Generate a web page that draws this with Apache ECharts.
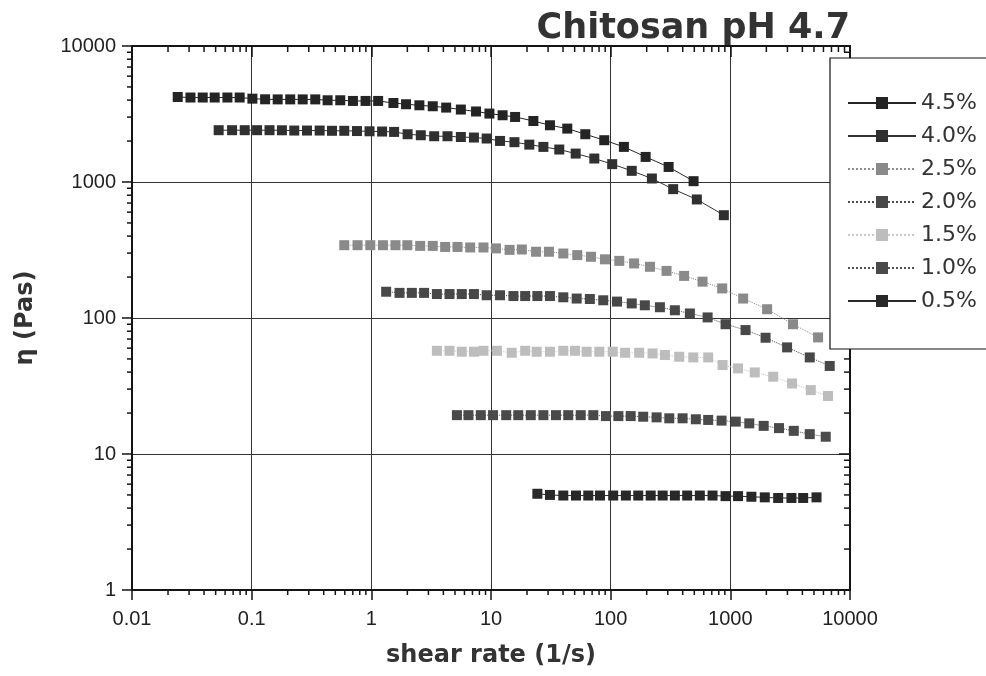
<!DOCTYPE html>
<html>
<head>
<meta charset="utf-8">
<script src="https://cdn.jsdelivr.net/npm/echarts@6/dist/echarts.min.js"></script>
<style>
html,body{margin:0;padding:0;background:#fff;}
#chart{width:986px;height:676px;}
</style>
</head>
<body>
<div id="chart"></div>
<script>
// ---- data ----
const seriesNames = ['4.5%', '4.0%', '2.5%', '2.0%', '1.5%', '1.0%', '0.5%'];

const rate45 = [0.0241, 0.0308, 0.039, 0.0491, 0.0627, 0.0794, 0.1014, 0.1295, 0.165, 0.210, 0.267, 0.340, 0.431, 0.550, 0.702, 0.895, 1.14, 1.53, 1.95, 2.52, 3.26, 4.22, 5.6, 7.5, 9.7, 12.5, 15.9, 22.6, 31.1, 43.4, 61.4, 88.4, 129, 196, 305, 493];
const visc45 = [4217, 4180, 4180, 4180, 4180, 4180, 4100, 4055, 4050, 4050, 4050, 4050, 3990, 3990, 3945, 3945, 3945, 3810, 3730, 3665, 3605, 3525, 3410, 3300, 3185, 3095, 3008, 2810, 2613, 2470, 2245, 2029, 1812, 1529, 1290, 1014];

const rate40 = [0.053, 0.0686, 0.0875, 0.111, 0.141, 0.179, 0.227, 0.290, 0.370, 0.469, 0.594, 0.759, 0.966, 1.23, 1.55, 2.01, 2.59, 3.35, 4.33, 5.6, 7.2, 9.2, 11.9, 15.7, 20.9, 27.4, 37.2, 51, 73, 103, 150, 221, 333, 525, 883];
const visc40 = [2404, 2404, 2404, 2404, 2404, 2400, 2390, 2390, 2390, 2380, 2380, 2370, 2360, 2350, 2335, 2245, 2207, 2170, 2170, 2142, 2123, 2088, 2004, 1962, 1883, 1812, 1733, 1618, 1488, 1353, 1208, 1061, 886, 744, 570];

const rate25 = [0.594, 0.767, 0.98, 1.25, 1.59, 2.0, 2.56, 3.26, 4.14, 5.25, 6.7, 8.65, 11.0, 14.3, 18.1, 23.8, 30.5, 40.2, 52.6, 68.5, 89.6, 118, 157, 213, 293, 411, 586, 855, 1280, 2030, 3340, 5410];
const visc25 = [343, 343, 343, 343, 343, 343, 339, 339, 333, 333, 330, 330, 325, 317, 319, 307, 307, 298, 290, 282, 270, 263, 252, 238, 222, 204, 185, 165, 139, 116, 90, 72];

const rate20 = [1.33, 1.72, 2.18, 2.76, 3.53, 4.5, 5.7, 7.2, 9.2, 11.9, 15.4, 19.3, 24.4, 31.1, 40.2, 52, 67, 86.7, 113, 150, 193, 258, 344, 459, 646, 912, 1340, 1970, 2980, 4610, 6770];
const visc20 = [156, 153, 153, 153, 150, 150, 150, 150, 147, 147, 145, 145, 145, 145, 142, 139, 138, 135, 132, 128, 124, 120, 114, 108, 101, 90, 81.5, 71.6, 60.8, 51.3, 44.4];

const rate15 = [3.53, 4.5, 5.7, 7.2, 8.65, 11.2, 14.9, 19.3, 24.1, 31.1, 40.2, 50.3, 63, 80.4, 104, 132, 173, 224, 284, 374, 490, 653, 861, 1160, 1600, 2280, 3280, 4700, 6550];
const visc15 = [57.4, 57.4, 56.5, 56.5, 57.4, 57.4, 55.5, 57.4, 56.5, 56.5, 57.4, 57.4, 56.5, 56.5, 56.5, 55.5, 55.5, 54.9, 53.4, 51.9, 51.3, 51.3, 45.1, 42.6, 39.8, 37, 33, 29.5, 26.7];

const rate10 = [5.19, 6.48, 8.22, 10.4, 13.4, 16.9, 21.5, 27.4, 34.9, 44.2, 56.2, 71.6, 91.4, 116, 147, 187, 242, 309, 399, 515, 653, 845, 1110, 1440, 1900, 2550, 3390, 4610, 6270];
const visc10 = [19.3, 19.3, 19.3, 19.3, 19.3, 19.3, 19.3, 19.3, 19.3, 19.3, 19.3, 19.3, 19.0, 19.0, 19.0, 18.8, 18.6, 18.3, 18.3, 18.0, 17.8, 17.6, 17.3, 16.8, 16.1, 15.5, 14.8, 14.0, 13.4];

const rate05 = [24.4, 31.1, 40.2, 51.3, 65, 81.4, 105, 134, 170, 216, 272, 344, 436, 556, 710, 912, 1160, 1500, 1940, 2510, 3240, 4060, 5250];
const visc05 = [5.1, 5.0, 4.95, 4.95, 4.95, 4.95, 4.95, 4.95, 4.95, 4.95, 4.95, 4.95, 4.95, 4.95, 4.95, 4.9, 4.9, 4.85, 4.8, 4.75, 4.75, 4.75, 4.8];

const xTickValues = [0.01, 0.1, 1, 10, 100, 1000, 10000];
const yTickValues = [1, 10, 100, 1000, 10000];
const minorMultipliers = [2, 3, 4, 5, 6, 7, 8, 9];

// ---- build ----
const pairs = (xs, ys) => xs.map((x, i) => [x, ys[i]]);
const xMinor = [];
for (let k = 0; k < xTickValues.length - 1; k++) minorMultipliers.forEach(m => xMinor.push([+(m * xTickValues[k]).toPrecision(6), yTickValues[0]]));
const yMinor = [];
for (let k = 0; k < yTickValues.length - 1; k++) minorMultipliers.forEach(m => yMinor.push([xTickValues[0], +(m * yTickValues[k]).toPrecision(6)]));

const styles = [
  {color: '#242424', line: '#262626', type: 'solid'},
  {color: '#303030', line: '#333333', type: 'solid'},
  {color: '#8a8a8a', line: '#8e8e8e', type: 'dotted'},
  {color: '#484848', line: '#4c4c4c', type: 'dotted'},
  {color: '#bdbdbd', line: '#c8c8c8', type: 'dotted'},
  {color: '#4a4a4a', line: '#4f4f4f', type: 'dotted'},
  {color: '#282828', line: '#2a2a2a', type: 'solid'}
];
const datasets = [pairs(rate45, visc45), pairs(rate40, visc40), pairs(rate25, visc25), pairs(rate20, visc20), pairs(rate15, visc15), pairs(rate10, visc10), pairs(rate05, visc05)];

const fmt = v => String(+(+v).toPrecision(6));
const AX = '#151515';

const dataSeries = seriesNames.map((name, i) => ({
  name: name,
  type: 'line',
  data: datasets[i],
  symbol: 'rect',
  symbolSize: 10,
  showSymbol: true,
  itemStyle: {color: styles[i].color, borderColor: styles[i].color, borderWidth: 0},
  lineStyle: {color: styles[i].line, width: 1, type: styles[i].type},
  emphasis: {disabled: true},
  animation: false,
  z: 3
}));

const minorX = {
  type: 'custom',
  data: xMinor,
  clip: false,
  silent: true,
  animation: false,
  renderItem: function (params, api) {
    const v = api.value(0);
    const b = api.coord([v, yTickValues[0]]);
    const t = api.coord([v, yTickValues[yTickValues.length - 1]]);
    return {type: 'group', children: [
      {type: 'line', shape: {x1: b[0], y1: b[1], x2: b[0], y2: b[1] + 5}, style: {stroke: AX, lineWidth: 1.5}},
      {type: 'line', shape: {x1: t[0], y1: t[1], x2: t[0], y2: t[1] + 6}, style: {stroke: AX, lineWidth: 1.5}}
    ]};
  }
};
const minorY = {
  type: 'custom',
  data: yMinor,
  clip: false,
  silent: true,
  animation: false,
  renderItem: function (params, api) {
    const v = api.value(1);
    const l = api.coord([xTickValues[0], v]);
    const r = api.coord([xTickValues[xTickValues.length - 1], v]);
    return {type: 'group', children: [
      {type: 'line', shape: {x1: l[0] - 5, y1: l[1], x2: l[0], y2: l[1]}, style: {stroke: AX, lineWidth: 1.5}},
      {type: 'line', shape: {x1: r[0] - 6, y1: r[1], x2: r[0], y2: r[1]}, style: {stroke: AX, lineWidth: 1.5}}
    ]};
  }
};

const chart = echarts.init(document.getElementById('chart'), null, {renderer: 'canvas'});
chart.setOption({
  backgroundColor: '#ffffff',
  animation: false,
  title: {
    text: 'Chitosan pH 4.7',
    right: 136,
    top: 11,
    padding: 0,
    textStyle: {fontFamily: 'DejaVu Sans', fontWeight: 'bold', fontSize: 35, color: '#333333'}
  },
  grid: {left: 132, right: 136, top: 46, bottom: 86, containLabel: false},
  legend: {
    data: seriesNames,
    orient: 'vertical',
    left: 830,
    top: 58,
    itemWidth: 68,
    itemHeight: 15,
    itemGap: 11,
    padding: [34, 20, 37, 17],
    backgroundColor: '#ffffff',
    borderColor: '#111111',
    borderWidth: 1.2,
    selectedMode: false,
    textStyle: {fontFamily: 'DejaVu Sans', fontSize: 22, color: '#333333'},
    z: 10
  },
  xAxis: [{
    type: 'log',
    logBase: 10,
    min: xTickValues[0],
    max: xTickValues[xTickValues.length - 1],
    position: 'bottom',
    name: 'shear rate (1/s)',
    nameLocation: 'middle',
    nameGap: 54,
    nameTextStyle: {fontFamily: 'DejaVu Sans', fontWeight: 'bold', fontSize: 24, color: '#333333'},
    axisLine: {show: true, lineStyle: {color: AX, width: 2}},
    axisTick: {show: true, inside: false, length: 10, lineStyle: {color: AX, width: 1.5}},
    minorTick: {show: false},
    axisLabel: {formatter: fmt, margin: 19, fontFamily: 'Liberation Sans', fontSize: 20, color: '#222222'},
    splitLine: {show: true, lineStyle: {color: '#333333', width: 1}}
  }, {
    type: 'log',
    logBase: 10,
    min: xTickValues[0],
    max: xTickValues[xTickValues.length - 1],
    position: 'top',
    axisLine: {show: true, lineStyle: {color: AX, width: 2}},
    axisTick: {show: true, inside: true, length: 11, lineStyle: {color: AX, width: 1.5}},
    axisLabel: {show: false},
    splitLine: {show: false}
  }],
  yAxis: [{
    type: 'log',
    logBase: 10,
    min: yTickValues[0],
    max: yTickValues[yTickValues.length - 1],
    position: 'left',
    name: 'η (Pas)',
    nameLocation: 'middle',
    nameGap: 94,
    nameRotate: 90,
    nameTextStyle: {fontFamily: 'DejaVu Sans', fontWeight: 'bold', fontSize: 24, color: '#333333'},
    axisLine: {show: true, lineStyle: {color: AX, width: 2}},
    axisTick: {show: true, inside: false, length: 10, lineStyle: {color: AX, width: 1.5}},
    axisLabel: {formatter: fmt, margin: 16, fontFamily: 'Liberation Sans', fontSize: 20, color: '#222222'},
    splitLine: {show: true, lineStyle: {color: '#333333', width: 1}}
  }, {
    type: 'log',
    logBase: 10,
    min: yTickValues[0],
    max: yTickValues[yTickValues.length - 1],
    position: 'right',
    axisLine: {show: true, lineStyle: {color: AX, width: 2}},
    axisTick: {show: true, inside: true, length: 11, lineStyle: {color: AX, width: 1.5}},
    axisLabel: {show: false},
    splitLine: {show: false}
  }],
  series: dataSeries.concat([minorX, minorY])
});
</script>
</body>
</html>
